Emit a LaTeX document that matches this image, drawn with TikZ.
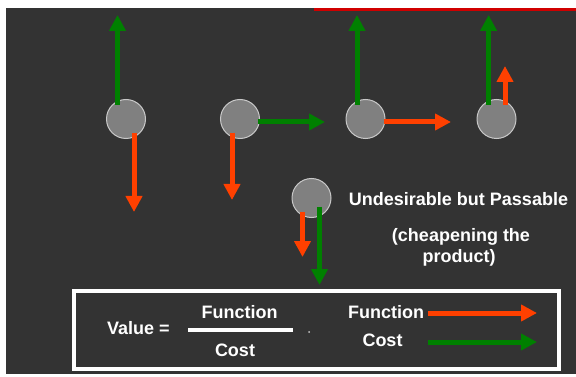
\documentclass[tikz,border=0pt]{standalone}
\usepackage{fontspec}
\setmainfont{Liberation Sans}
\usetikzlibrary{arrows.meta}
\definecolor{bgdark}{HTML}{333333}
\definecolor{vgreen}{HTML}{008000}
\definecolor{vred}{HTML}{FF4000}
\definecolor{ballfill}{HTML}{808080}
\definecolor{ballrim}{HTML}{C8C8C8}
\definecolor{topred}{HTML}{D00000}
\tikzset{
  ball/.style={circle, minimum size=39pt, inner sep=0pt, fill=ballfill, draw=ballrim, line width=1pt},
  vec/.style={line width=5pt, -{Triangle[width=16pt,length=16pt]}},
  gvec/.style={vec, draw=vgreen},
  rvec/.style={vec, draw=vred},
  txt/.style={text=white, font=\bfseries\fontsize{18}{21}\selectfont, inner sep=0pt},
}
\begin{document}
\begin{tikzpicture}[x=1pt,y=-1pt]
\useasboundingbox (0,0) rectangle (576,377);
\fill[white] (0,0) rectangle (576,377);
\fill[bgdark] (6,8) rectangle (576,374);
\fill[topred] (314,8) rectangle (576,11);

% balls
\node[ball] (c1) at (126,119) {};
\node[ball] (c2) at (240,119) {};
\node[ball] (c3) at (365.5,119) {};
\node[ball] (c4) at (496.5,119) {};
\node[ball] (c5) at (311.5,198) {};

% ball 1
\coordinate (g1s) at (117.5,105); \coordinate (g1e) at (117.5,15);
\coordinate (r1s) at (134,133);   \coordinate (r1e) at (134,212);
\draw[gvec] (g1s) -- (g1e);
\draw[rvec] (r1s) -- (r1e);
% ball 2
\coordinate (g2s) at (258,122); \coordinate (g2e) at (325,122);
\coordinate (r2s) at (232,133); \coordinate (r2e) at (232,200);
\draw[gvec] (g2s) -- (g2e);
\draw[rvec] (r2s) -- (r2e);
% ball 3
\coordinate (g3s) at (357,105); \coordinate (g3e) at (357,15);
\coordinate (r3s) at (384,122); \coordinate (r3e) at (451,122);
\draw[gvec] (g3s) -- (g3e);
\draw[rvec] (r3s) -- (r3e);
% ball 4
\coordinate (g4s) at (488.6,105); \coordinate (g4e) at (488.6,15);
\coordinate (r4s) at (505,105);   \coordinate (r4e) at (505,66);
\draw[gvec] (g4s) -- (g4e);
\draw[rvec] (r4s) -- (r4e);
% ball 5
\coordinate (r5s) at (302.5,212); \coordinate (r5e) at (302.5,257);
\coordinate (g5s) at (319.5,207); \coordinate (g5e) at (319.5,285);
\draw[rvec] (r5s) -- (r5e);
\draw[gvec] (g5s) -- (g5e);

% texts
\node[txt, anchor=base] (t1) at (458.5,205.7) {Undesirable but Passable};
\node[txt, anchor=base] (t2) at (461,241) {(cheapening the};
\node[txt, anchor=base] (t3) at (459,262) {product)};

% legend box
\node[draw=white, line width=4pt, minimum width=484.5pt, minimum height=78pt, inner sep=0pt] (box) at (316.25,330) {};
\node[txt, anchor=base west] (val) at (107,334.3) {Value =};
\node[txt, anchor=base] (fnum) at (239.5,318.3) {Function};
\node[txt, anchor=base] (fden) at (235,356.7) {Cost};
\coordinate (fl1) at (188,330); \coordinate (fl2) at (293,330);
\draw[white, line width=4pt] (fl1) -- (fl2);
\fill[ballrim] (309,332) circle (1pt);
\node[txt, anchor=base] (lf) at (386,318) {Function};
\node[txt, anchor=base] (lc) at (382.5,346) {Cost};
\coordinate (la1) at (428,313); \coordinate (la2) at (537,313);
\coordinate (lb1) at (428,342); \coordinate (lb2) at (537,342);
\draw[rvec] (la1) -- (la2);
\draw[gvec] (lb1) -- (lb2);
\end{tikzpicture}
\end{document}
